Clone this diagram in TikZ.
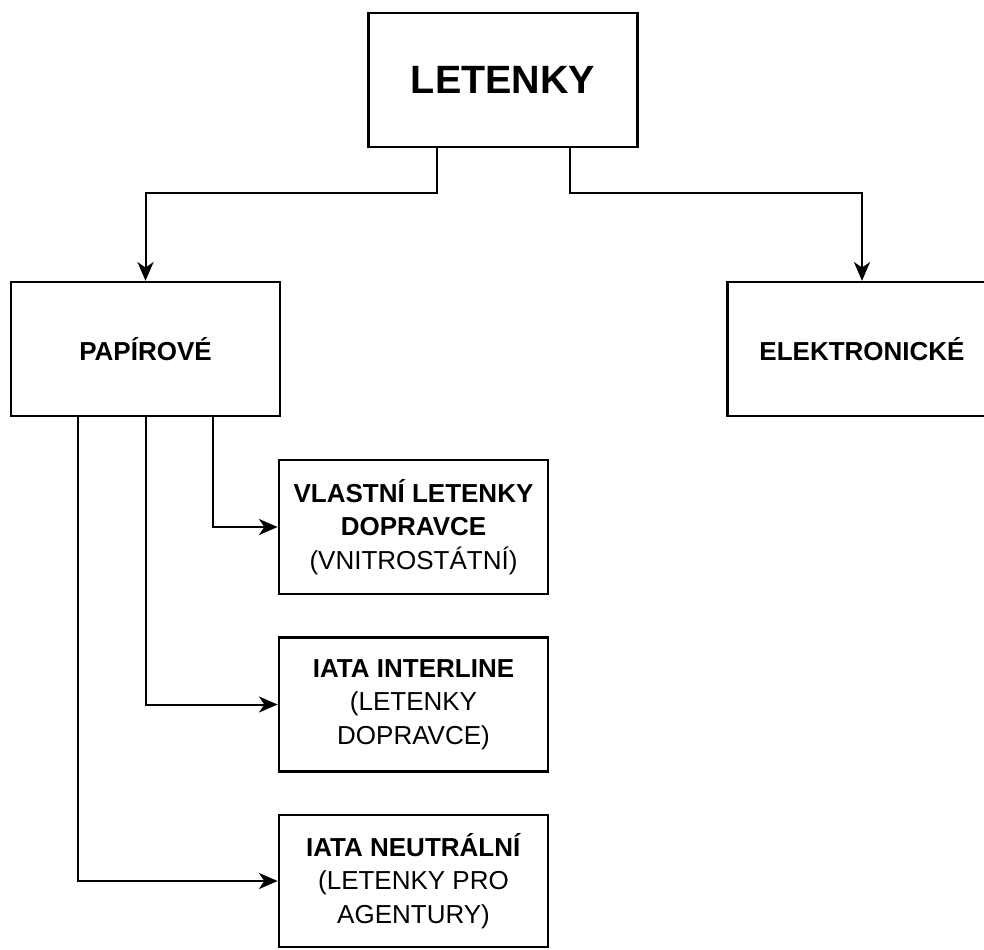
\documentclass[tikz,border=0pt]{standalone}
\usepackage{fontspec}
\setmainfont{Liberation Sans}
\usetikzlibrary{arrows.meta}
\begin{document}
\begin{tikzpicture}[x=0.75pt,y=-0.75pt,
  box/.style={draw=black,line width=1.8pt,fill=white,minimum width=202pt,minimum height=100.5pt,align=center,inner sep=0pt,
    font=\fontsize{19.5}{25}\selectfont},
  arr/.style={draw=black,line width=1.5pt,-{Stealth[length=14pt,width=12pt,inset=4pt]}}]
\useasboundingbox (0,0) rectangle (984,949);
\node[box,font=\fontsize{29.6}{34}\selectfont\bfseries] (let) at (503,80) {LETENKY};
\node[box] (pap) at (145.5,349) {\bfseries PAPÍROVÉ};
\node[box] (elek) at (862,349) {\bfseries ELEKTRONICKÉ};
\node[box] (v1) at (413.5,527) {\textbf{VLASTNÍ LETENKY}\\\textbf{DOPRAVCE}\\(VNITROSTÁTNÍ)};
\node[box] (v2) at (413.5,704.5) {\textbf{IATA INTERLINE}\\(LETENKY\\DOPRAVCE)};
\node[box,minimum height=99pt] (v3) at (413.5,881) {\textbf{IATA NEUTRÁLNÍ}\\(LETENKY PRO\\AGENTURY)};
\draw[arr] ([xshift=-66*0.75pt]let.south) |- ++(0,45) -| (pap.north);
\draw[arr] ([xshift=67*0.75pt]let.south) |- ++(0,45) -| (elek.north);
\draw[arr] ([xshift=67*0.75pt]pap.south) |- (v1.west);
\draw[arr] (pap.south) |- (v2.west);
\draw[arr] ([xshift=-67.5*0.75pt]pap.south) |- (v3.west);
\end{tikzpicture}
\end{document}
